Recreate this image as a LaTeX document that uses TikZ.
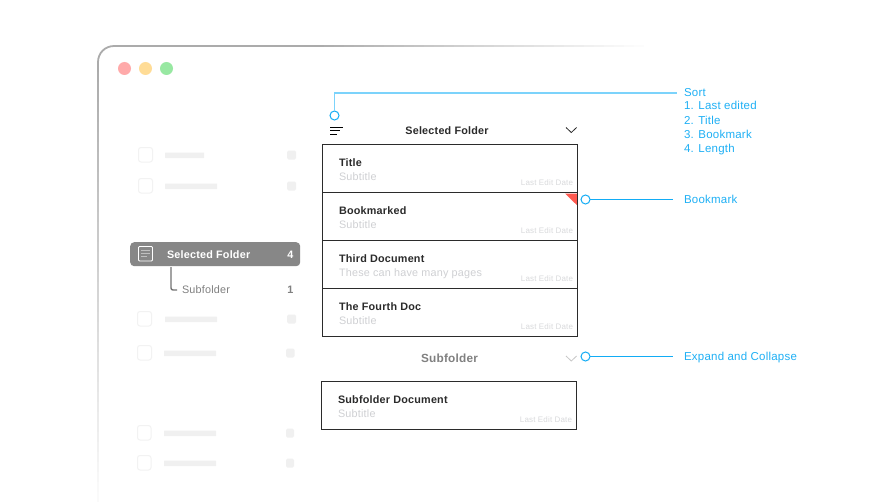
\documentclass[tikz,border=0pt]{standalone}
\usepackage{fontspec}
\setmainfont[LetterSpace=2]{Liberation Sans}
\definecolor{blueln}{HTML}{12ACF5}
\definecolor{bluelt}{HTML}{7CD3FB}
\definecolor{bluetx}{HTML}{1FB0F5}
\definecolor{ghost}{HTML}{F0F0F0}
\definecolor{ghostln}{HTML}{F2F2F2}
\definecolor{subtx}{HTML}{CFD0D3}
\definecolor{datetx}{HTML}{D9DADC}
\definecolor{darktx}{HTML}{2B2B2B}
\definecolor{frameln}{HTML}{ABABAB}
\tikzset{
  lbl/.style={inner sep=0pt,outer sep=0pt},
  doctitle/.style={lbl,anchor=base west,font=\fontsize{10.8}{12}\selectfont\bfseries,text=darktx},
  docsub/.style={lbl,anchor=base west,font=\fontsize{10.8}{12}\selectfont,text=subtx},
  docdate/.style={lbl,anchor=base east,font=\fontsize{8}{9}\selectfont,text=datetx},
  docbox/.style={draw=darktx,line width=1pt,minimum width=255pt,minimum height=48pt,anchor=north west,inner sep=0pt,outer sep=0pt},
  callout/.style={lbl,anchor=base west,font=\fontsize{11.5}{13}\selectfont,text=bluetx},
  dot/.style={circle,draw=blueln,fill=white,line width=1pt,minimum size=9pt,inner sep=0pt,outer sep=0pt},
  light/.style={circle,minimum size=13pt,inner sep=0pt},
  check/.style={draw=ghostln,line width=1pt,rounded corners=2.5pt},
  bar/.style={fill=ghost,rounded corners=0.5pt},
  chip/.style={fill=ghost,rounded corners=1.5pt},
  chev/.style={line width=0.8pt,line join=miter},
}
\newcommand{\docrow}[5]{%
  \node[docbox] (#1) at (#2,#3) {};
  \node[doctitle] (#1t) at (#2+16.5,#3+21.5) {#4};
  \node[docsub] (#1s) at (#2+16.5,#3+35.5) {#5};
  \node[docdate] (#1d) at (#2+250.5,#3+41) {Last Edit Date};
}
\newcommand{\ghostrow}[7]{% cx cy cw barx barw chipx chipw
  \draw[check] (#1,#2) rectangle ++(#3,14.5);
  \fill[bar] (#4,#2+5) rectangle ++(#5,5.5);
  \fill[chip] (#6,#2+3) rectangle ++(#7,9);
}
\begin{document}
\begin{tikzpicture}[x=1pt,y=-1pt]
\useasboundingbox (0,0) rectangle (873,503);
\fill[white] (0,0) rectangle (873,503);
% window frame, fading
\foreach \i in {0,...,52}{
  \pgfmathsetmacro{\xa}{114+\i*10}
  \pgfmathsetmacro{\op}{\i<20?100:max(0,100*(1-(\i-20)/33))}
  \draw[frameln!\op!white,line width=1.8pt] (\xa,46) -- (\xa+10.3,46);
}
\foreach \i in {0,...,43}{
  \pgfmathsetmacro{\ya}{62+\i*10}
  \pgfmathsetmacro{\op}{100-\i*2.2}
  \draw[frameln!\op!white,line width=1.8pt] (98,\ya) -- (98,\ya+10.3);
}
\draw[frameln,line width=1.8pt] (98,62.2) .. controls (98,53) and (105,46) .. (114.2,46);
% traffic lights
\node[light,fill={rgb,255:red,255;green,170;blue,170}] (tl1) at (124.5,68.5) {};
\node[light,fill={rgb,255:red,255;green,220;blue,150}] (tl2) at (145.5,68.5) {};
\node[light,fill={rgb,255:red,152;green,232;blue,162}] (tl3) at (166.5,68.5) {};
% sidebar ghosts
\ghostrow{138.5}{147.5}{14}{165}{39}{287}{9}
\ghostrow{138.5}{178.5}{14}{165}{52}{287}{9}
\ghostrow{137.5}{311.5}{14}{165}{52}{287}{9}
\ghostrow{137.5}{345.5}{14}{164}{52}{286}{8.5}
\ghostrow{137.5}{425.5}{13.5}{164}{52}{286}{8}
\ghostrow{137.5}{455.5}{13.5}{164}{52}{286}{8}
% selected folder
\node[fill=black!47,rounded corners=4pt,minimum width=170pt,minimum height=24pt,inner sep=0pt,anchor=north west] (sel) at (130,242) {};
\draw[white,line width=0.8pt,rounded corners=1pt] (138.5,246.5) rectangle (152.5,261);
\draw[white!75!black,line width=1.3pt] (141,250.5) -- (150,250.5) (141,253.5) -- (150,253.5) (141,256.5) -- (147,256.5);
\node[lbl,anchor=base west,font=\fontsize{10.8}{12}\selectfont\bfseries,text=white] (seltxt) at (167,258) {Selected Folder};
\node[lbl,anchor=base,font=\fontsize{10.8}{12}\selectfont\bfseries,text=white] (selnum) at (290.5,258) {4};
\node[lbl,anchor=base west,font=\fontsize{10.8}{12}\selectfont,text=black!50] (subf) at (182,293) {Subfolder};
\node[lbl,anchor=base,font=\fontsize{10.8}{12}\selectfont\bfseries,text=black!50] (subnum) at (290.5,293) {1};
\coordinate (treeend) at (177,290);
\draw[black!55,line width=1.4pt,rounded corners=2pt] (171,267) -- (171,290) -- (treeend);
% header
\draw[black,line width=1pt] (330,127) -- (343,127) (330,130.7) -- (340,130.7) (330,134) -- (337,134);
\node[lbl,anchor=base,font=\fontsize{10.8}{13}\selectfont\bfseries,text=darktx] (head) at (447,134) {Selected Folder};
\draw[chev,darktx] (566,127.5) -- (571.3,132.5) -- (576.6,127.5);
% list
\docrow{r1}{322.5}{144.5}{Title}{Subtitle}
\docrow{r2}{322.5}{192.5}{Bookmarked}{Subtitle}
\docrow{r3}{322.5}{240.5}{Third Document}{These can have many pages}
\docrow{r4}{322.5}{288.5}{The Fourth Doc}{Subtitle}
\fill[fill={rgb,255:red,255;green,90;blue,80}] (565,193.5) -- (576.8,193.5) -- (576.8,205) -- cycle;
% subfolder
\node[lbl,anchor=base,font=\fontsize{11.8}{13}\selectfont\bfseries,text=black!50] (subhead) at (449.5,362) {Subfolder};
\draw[chev,black!22] (566,356) -- (571.3,361) -- (576.6,356);
\docrow{r5}{321.5}{381.5}{Subfolder Document}{Subtitle}
% callouts
\node[dot] (d1) at (334.5,115.5) {};
\coordinate (e1) at (677,93);
\draw[bluelt,line width=1.2pt] (d1.north) |- (e1);
\node[callout] (t1) at (684,96) {Sort};
\node[callout] (t2) at (684,110) {1. Last edited};
\node[callout] (t3) at (684,124) {2. Title};
\node[callout] (t4) at (684,138) {3. Bookmark};
\node[callout] (t5) at (684,152) {4. Length};
\node[dot] (d2) at (585.5,199.5) {};
\coordinate (e2) at (673,199.5);
\draw[blueln,line width=0.8pt] (d2.east) -- (e2);
\node[callout] (t6) at (684,203) {Bookmark};
\node[dot] (d3) at (585.5,356.5) {};
\coordinate (e3) at (673,356.5);
\draw[blueln,line width=0.8pt] (d3.east) -- (e3);
\node[callout] (t7) at (684,360) {Expand and Collapse};
\end{tikzpicture}
\end{document}
